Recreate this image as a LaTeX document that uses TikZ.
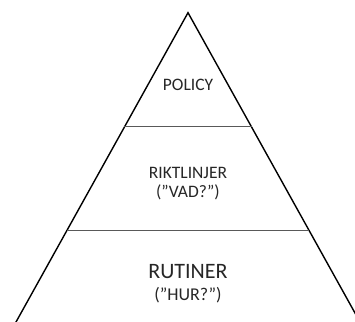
\documentclass[tikz,border=0pt]{standalone}
\usepackage{fontspec}
\setmainfont{Carlito}
\usepackage{tikz}
\usetikzlibrary{calc}

\begin{document}
\begin{tikzpicture}[x=1pt,y=-1pt,
		edge/.style={line width=1.4pt, black},
		level/.style={line width=0.9pt, black!65},
		txt/.style={anchor=base, inner sep=0pt, text=black!85}]
	\useasboundingbox (0,0) rectangle (355,321);
	\clip (0,0) rectangle (355,321);
	\coordinate (top) at (188,12.7);
	\coordinate (left) at (6,340);
	\coordinate (right) at (370,340);
	% pyramid
	\draw[edge, line join=miter] (left) -- (top) -- (right);
	\draw[level] ($(top)!0.349!(left)$) -- ($(top)!0.349!(right)$);
	\draw[level] ($(top)!0.664!(left)$) -- ($(top)!0.664!(right)$);
	% texts
	\node[txt, font=\fontsize{17.5}{21}\selectfont] (policy) at (188,90) {POLICY};
	\node[txt, font=\fontsize{17.5}{21}\selectfont] (riktlinjer) at (188,178.3) {RIKTLINJER};
	\node[txt, font=\fontsize{17.5}{21}\selectfont] (vad) at (188,197.5) {(”VAD?”)};
	\node[txt, font=\fontsize{22}{26}\selectfont] (rutiner) at (188,278.3) {RUTINER};
	\node[txt, font=\fontsize{18}{22}\selectfont] (hur) at (188,300) {(”HUR?”)};
\end{tikzpicture}
\end{document}
